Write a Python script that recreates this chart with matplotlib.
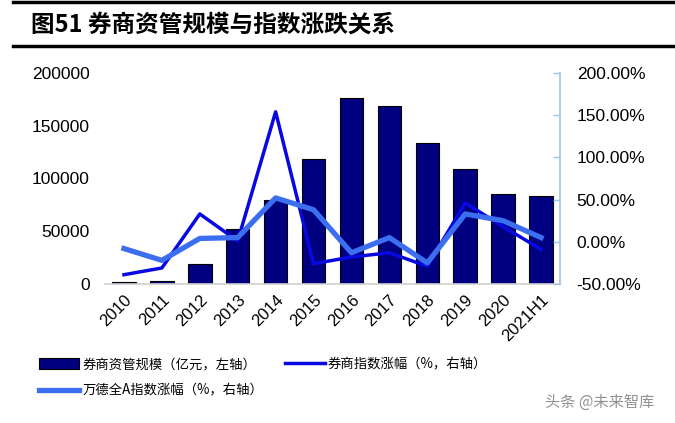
import numpy as np
import matplotlib
matplotlib.use("Agg")
import matplotlib.pyplot as plt
from matplotlib.patches import Patch
from matplotlib.lines import Line2D

plt.rcParams["font.family"] = ["Liberation Sans", "Noto Sans CJK SC", "DejaVu Sans"]

years = ["2010", "2011", "2012", "2013", "2014", "2015", "2016",
         "2017", "2018", "2019", "2020", "2021H1"]
# 券商资管规模（亿元）
aum = [1800, 2800, 19000, 51800, 79600, 118800, 176000,
       169000, 134000, 108700, 85600, 83400]
# 券商指数涨幅 (%)
broker_idx = [-39, -31, 33, 1, 154, -26, -18, -13, -29, 46, 18, -9]
# 万德全A指数涨幅 (%)
wind_a = [-8, -22, 4, 5, 52, 38, -13, 5, -25, 33, 25, 5]

cjk = ["Noto Sans CJK SC", "DejaVu Sans"]

fig = plt.figure(figsize=(6.75, 4.23), dpi=100)
ax = fig.add_axes([105 / 675, 139 / 423, 455 / 675, 211 / 423])
x = np.arange(len(years))

ax.bar(x, aum, width=0.62, color="#000080", edgecolor="black", linewidth=0.8, zorder=2)
ax.set_xlim(-0.5, len(years) - 0.5)
ax.set_ylim(0, 200000)
ax.set_yticks([0, 50000, 100000, 150000, 200000])
ax.set_yticklabels(["0", "50000", "100000", "150000", "200000"])
ax.set_xticks(x)
ax.set_xticklabels(years, rotation=45, ha="right", rotation_mode="anchor")
ax.tick_params(axis="y", length=0, pad=11, labelsize=12.5)
ax.tick_params(axis="x", length=0, pad=6, labelsize=12)
for s in ["top", "right", "left"]:
    ax.spines[s].set_visible(False)
ax.spines["bottom"].set_color("#d0d0d0")
ax.spines["bottom"].set_linewidth(1.2)

ax2 = ax.twinx()
ax2.plot(x, broker_idx, color="#0808E0", linewidth=2.5, zorder=3)
ax2.plot(x, wind_a, color="#3C6EF0", linewidth=3.8, zorder=4)
ax2.set_ylim(-50, 200)
ax2.set_yticks([-50, 0, 50, 100, 150, 200])
ax2.set_yticklabels([f"{v:.2f}%" for v in [-50, 0, 50, 100, 150, 200]])
ax2.tick_params(axis="y", direction="in", length=5, width=1, color="#9dc3e6",
                pad=12, labelsize=12.5)
for s in ["top", "left", "bottom"]:
    ax2.spines[s].set_visible(False)
ax2.spines["right"].set_color("#9dc3e6")
ax2.spines["right"].set_linewidth(1.2)

# title and rules
fig.add_artist(Line2D([13 / 675, 1], [1 - 2 / 423, 1 - 2 / 423], color="black", linewidth=2.5))
fig.add_artist(Line2D([13 / 675, 1], [1 - 46 / 423, 1 - 46 / 423], color="black", linewidth=2.5))
fig.text(31 / 675, 1 - 25 / 423, "图51 券商资管规模与指数涨跌关系", family=cjk,
         fontsize=17, fontweight="bold", va="center", ha="left")

handles = [
    Patch(facecolor="#000080", edgecolor="black", linewidth=0.8),
    Line2D([], [], color="#3C6EF0", linewidth=3.8),
    Line2D([], [], color="#0808E0", linewidth=2.5),
]
labels = ["券商资管规模（亿元，左轴）", "万德全A指数涨幅（%，右轴）", "券商指数涨幅（%，右轴）"]
leg = fig.legend(handles, labels, ncol=2, frameon=False,
                 loc="upper left", bbox_to_anchor=(27 / 675, 1 - 345 / 423),
                 prop={"family": cjk, "size": 9.6}, handlelength=3.0, handleheight=0.9,
                 columnspacing=1.6, labelspacing=0.95, handletextpad=0.25)

fig.text(545 / 675, 1 - 402 / 423, "头条 @未来智库", family=cjk, fontsize=11,
         color="#777777", alpha=0.8, va="center", ha="left")

fig.savefig("out.png", dpi=100)
